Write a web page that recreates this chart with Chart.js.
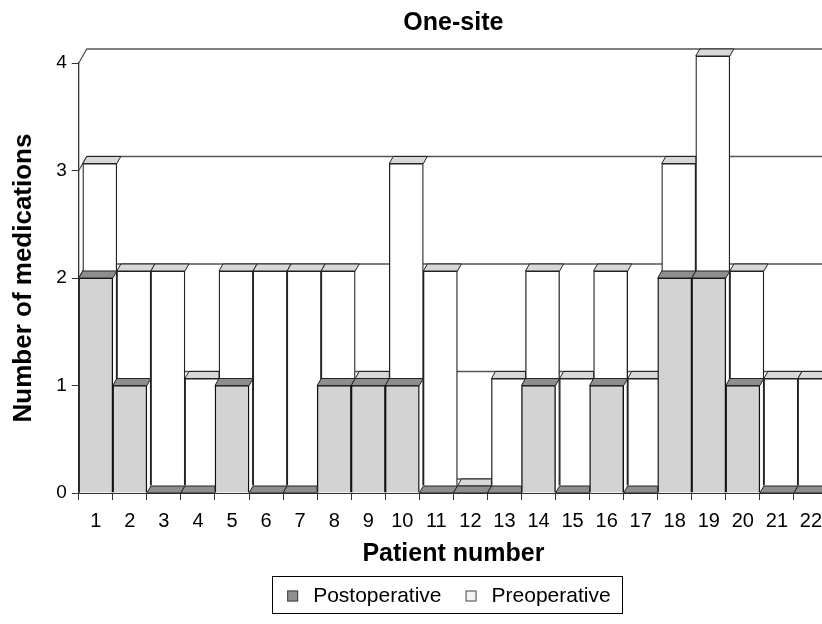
<!DOCTYPE html>
<html>
<head>
<meta charset="utf-8">
<title>One-site</title>
<script src="https://cdn.jsdelivr.net/npm/chart.js@4.4.1/dist/chart.umd.min.js"></script>
<style>
  html, body { margin: 0; padding: 0; background: #fff; overflow: hidden; }
  #wrap { width: 822px; height: 624px; overflow: hidden; }
</style>
</head>
<body>
<div id="wrap"><canvas id="myChart" width="834" height="624"></canvas></div>
<script>
// values
const patients = ['1', '2', '3', '4', '5', '6', '7', '8', '9', '10', '11',
                  '12', '13', '14', '15', '16', '17', '18', '19', '20', '21', '22'];
const postoperative = [2, 1, 0, 0, 1, 0, 0, 1, 1, 1, 0, 0, 0, 1, 0, 1, 0, 2, 2, 1, 0, 0];
const preoperative  = [3, 2, 2, 1, 2, 2, 2, 2, 1, 3, 2, 0, 1, 2, 1, 2, 1, 3, 4, 2, 1, 1];
const seriesNames = ['Postoperative', 'Preoperative'];
const yTicks = [0, 1, 2, 3, 4];

const FONT = '"Liberation Sans", Arial, sans-serif';
const DX = 4, DY = 7;   // fake 3d depth of one series row

const faceColors = ['#d3d3d3', '#ffffff'];
const capColors = ['#8e8e8e', '#d8d8d8'];
const legendColors = ['#8e8e8e', '#f4f4f4'];

function drawCaps(ctx, bars, color) {
    bars.forEach((bar, i) => {
        const { x, y, width } = bar.getProps(['x', 'y', 'width'], true);
        const left = x - width / 2;
        const right = x + width / 2;
        const next = bars[i + 1];
        // the next bar is taller -> its face hides the right part of this cap
        const hidden = next && next.getProps(['y'], true).y < y - 0.5;
        ctx.beginPath();
        ctx.moveTo(left, y);
        ctx.lineTo(right, y);
        ctx.lineTo(hidden ? right : right + DX, y - DY);
        ctx.lineTo(left + DX, y - DY);
        ctx.closePath();
        ctx.fillStyle = color;
        ctx.fill();
        ctx.strokeStyle = '#222';
        ctx.lineWidth = 1;
        ctx.stroke();
    });
}

const fake3d = {
    id: 'fake3d',
    beforeDatasetsDraw(chart) {
        // gridlines on the back wall
        const { ctx, chartArea, scales: { y } } = chart;
        ctx.save();
        ctx.strokeStyle = '#555';
        ctx.lineWidth = 1.3;
        yTicks.forEach(v => {
            const py = y.getPixelForValue(v);
            ctx.beginPath();
            ctx.moveTo(chartArea.left, py);
            ctx.lineTo(chartArea.left + 2 * DX, py - 2 * DY);
            ctx.lineTo(chart.width, py - 2 * DY);
            ctx.stroke();
        });
        ctx.restore();
    },
    beforeDatasetDraw(chart, args) {
        chart.ctx.save();
        if (args.index === 1) {
            // preoperative row sits one step behind
            chart.ctx.translate(DX, -DY);
        }
    },
    afterDatasetDraw(chart, args) {
        drawCaps(chart.ctx, args.meta.data, capColors[args.index]);
        chart.ctx.restore();
    },
    afterDraw(chart) {
        // framed legend under the axis title
        const { ctx, chartArea } = chart;
        ctx.save();
        ctx.font = '21px ' + FONT;
        const widths = seriesNames.map(t => ctx.measureText(t).width);
        const box = 11, gapText = 15, gapItem = 24, padL = 15, padR = 12;
        let inner = gapItem * (widths.length - 1);
        widths.forEach(w => { inner += box + gapText + w; });
        const frameW = inner + padL + padR;
        const cx = (chartArea.left + chartArea.right) / 2 - 6;
        const fx = cx - frameW / 2;
        const fy = chart.height - 48;
        const fh = 37;
        ctx.strokeStyle = '#000';
        ctx.lineWidth = 1;
        ctx.strokeRect(Math.round(fx) + 0.5, fy + 0.5, Math.round(frameW), fh);
        const midY = fy + 20;
        let px = fx + padL;
        seriesNames.forEach((name, i) => {
            ctx.fillStyle = legendColors[i];
            ctx.fillRect(px, midY - 5.5, box, box);
            ctx.strokeStyle = '#444';
            ctx.strokeRect(px + 0.5, midY - 5, box - 1, box - 1);
            ctx.fillStyle = '#000';
            ctx.textBaseline = 'middle';
            ctx.textAlign = 'left';
            ctx.fillText(name, px + box + gapText, midY);
            px += box + gapText + widths[i] + gapItem;
        });
        ctx.restore();
    }
};

const ctx = document.getElementById('myChart').getContext('2d');

const myChart = new Chart(ctx, {
    type: 'bar',
    data: {
        labels: patients,
        datasets: [
            {
                label: seriesNames[0],
                data: postoperative,
                backgroundColor: faceColors[0],
                borderColor: '#111',
                borderWidth: 1.4,
                grouped: false,
                barPercentage: 1,
                categoryPercentage: 1,
                clip: false
            },
            {
                label: seriesNames[1],
                data: preoperative,
                backgroundColor: faceColors[1],
                borderColor: '#222',
                borderWidth: 1.3,
                grouped: false,
                barPercentage: 1,
                categoryPercentage: 1,
                clip: false
            }
        ]
    },
    options: {
        responsive: false,
        animation: false,
        layout: { padding: { left: 0, right: 6, top: 0, bottom: 53 } },
        plugins: {
            legend: { display: false },
            tooltip: { enabled: false },
            title: {
                display: true,
                text: 'One-site',
                fullSize: false,
                color: '#000',
                font: { family: FONT, size: 25, weight: 'bold' },
                padding: { top: 8, bottom: 25 }
            }
        },
        scales: {
            x: {
                grid: { drawOnChartArea: false, offset: true, tickLength: 7, color: '#333' },
                border: { display: true, color: '#333' },
                ticks: { color: '#000', font: { family: FONT, size: 20 }, padding: 9, maxRotation: 0, autoSkip: false },
                title: {
                    display: true,
                    text: 'Patient number',
                    color: '#000',
                    font: { family: FONT, size: 25, weight: 'bold' },
                    padding: { top: -3, bottom: 2 }
                }
            },
            y: {
                min: 0,
                max: 4,
                grid: { drawOnChartArea: false, tickLength: 7, color: '#333' },
                border: { display: true, color: '#333', width: 1.3 },
                ticks: { stepSize: 1, color: '#000', font: { family: FONT, size: 19 }, padding: 5 },
                title: {
                    display: true,
                    text: 'Number of medications',
                    color: '#000',
                    font: { family: FONT, size: 26, weight: 'bold' },
                    padding: { top: 8, bottom: 12 }
                }
            }
        }
    },
    plugins: [fake3d]
});
</script>
</body>
</html>
